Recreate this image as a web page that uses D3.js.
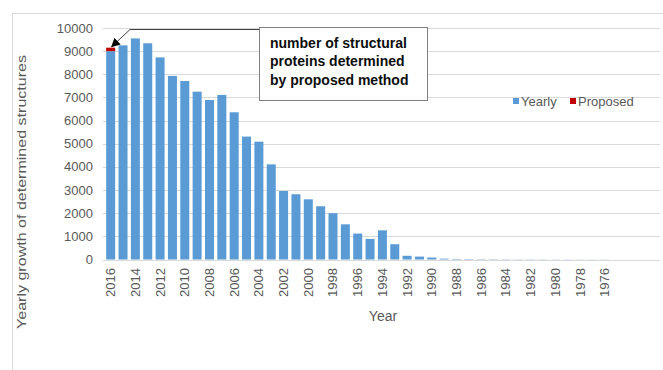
<!DOCTYPE html>
<html><head><meta charset="utf-8">
<script src="https://cdn.jsdelivr.net/npm/d3@7"></script>
<style>body{margin:0;background:#fff}svg{display:block}text{font-family:"Liberation Sans",Arial,sans-serif}</style>
</head><body><svg id="c" width="663" height="370"></svg>
<script>
const years = d3.range(2016, 1975, -1);
const yearly = [9000,9250,9550,9340,8730,7930,7710,7250,6890,7110,6360,5310,5090,4110,2960,2820,2600,2300,2000,1520,1120,890,1260,660,160,125,85,35,20,18,15,14,12,10,10,9,8,8,7,6,6];
const proposed = [150].concat(new Array(40).fill(0));
const yTicks = d3.range(0, 10001, 1000);
const annotationLines = ["number of structural","proteins determined","by proposed method"];

const svg = d3.select("#c");
const x = d3.scaleBand().domain(years).range([104.5, 610.9]).paddingInner(0.27).paddingOuter(0.135);
const y = d3.scaleLinear().domain([0, 10000]).range([259.5, 28]);

// outer frame
svg.append("rect").attr("x",12.5).attr("y",13.5).attr("width",700).attr("height",400)
  .attr("fill","none").attr("stroke","#d9d9d9");

// gridlines
svg.append("g").selectAll("line").data(yTicks).join("line")
  .attr("x1",103).attr("x2",660).attr("y1",d=>Math.round(y(d))+0.5).attr("y2",d=>Math.round(y(d))+0.5)
  .attr("stroke","#d9d9d9");

// y tick labels
svg.append("g").selectAll("text").data(yTicks).join("text")
  .attr("x",93).attr("y",d=>y(d)).attr("dy","0.35em").attr("text-anchor","end")
  .attr("font-size",13).attr("fill","#595959").text(d=>d);

const data = years.map((yr,i)=>({yr, v:yearly[i], p:proposed[i]}));
svg.append("g").selectAll("rect").data(data).join("rect")
  .attr("x",d=>x(d.yr)).attr("width",x.bandwidth())
  .attr("y",d=>y(d.v)).attr("height",d=>y(0)-y(d.v)).attr("fill","#5b9bd5");
svg.append("g").selectAll("rect").data(data.filter(d=>d.p>0)).join("rect")
  .attr("x",d=>x(d.yr)).attr("width",x.bandwidth())
  .attr("y",d=>y(d.v+d.p)).attr("height",d=>y(d.v)-y(d.v+d.p)).attr("fill","#c00000");

// x labels every other year
svg.append("g").selectAll("text").data(years.filter((d,i)=>i%2===0)).join("text")
  .attr("transform",d=>`translate(${x(d)+x.bandwidth()/2+4.5},268) rotate(-90)`)
  .attr("text-anchor","end").attr("font-size",13).attr("textLength",29).attr("lengthAdjust","spacingAndGlyphs")
  .attr("fill","#595959").text(d=>d);

// axis titles
svg.append("text").attr("transform","translate(26,192) rotate(-90)").attr("text-anchor","middle")
  .attr("font-size",13.5).attr("textLength",274).attr("lengthAdjust","spacingAndGlyphs")
  .attr("fill","#595959").text("Yearly growth of determined structures");
svg.append("text").attr("x",383).attr("y",321).attr("text-anchor","middle")
  .attr("font-size",14).attr("fill","#595959").text("Year");

// annotation
svg.append("defs").append("marker").attr("id","ah").attr("viewBox","0 0 10 10").attr("refX",9).attr("refY",5)
  .attr("markerWidth",9).attr("markerHeight",9).attr("markerUnits","userSpaceOnUse").attr("orient","auto")
  .append("path").attr("d","M0,0L10,5L0,10z").attr("fill","#000");
const tipX = x(2016)+x.bandwidth()/2+1, tipY = y(yearly[0]+proposed[0])-1;
svg.append("path").attr("d",`M259,29.5L130,29.5L${tipX},${tipY}`).attr("fill","none")
  .attr("stroke","#404040").attr("stroke-width",1).attr("marker-end","url(#ah)");
svg.append("rect").attr("x",259.5).attr("y",27.5).attr("width",168).attr("height",73)
  .attr("fill","#fff").attr("stroke","#7f7f7f");
svg.append("g").selectAll("text").data(annotationLines).join("text")
  .attr("x",270).attr("y",(d,i)=>47.5+i*18.5).attr("font-size",14).attr("font-weight","bold")
  .attr("fill","#0d0d0d").text(d=>d);

// legend
const leg = [{n:"Yearly",c:"#5b9bd5",x:513},{n:"Proposed",c:"#c00000",x:570}];
const lg = svg.append("g").selectAll("g").data(leg).join("g");
lg.append("rect").attr("x",d=>d.x).attr("y",98).attr("width",6).attr("height",6).attr("fill",d=>d.c);
lg.append("text").attr("x",d=>d.x+8).attr("y",101).attr("dy","0.35em").attr("font-size",13)
  .attr("fill","#595959").text(d=>d.n);
</script></body></html>
